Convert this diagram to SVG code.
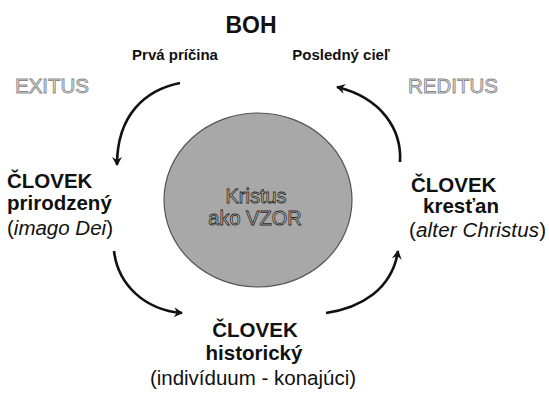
<svg xmlns="http://www.w3.org/2000/svg" width="549" height="394" viewBox="0 0 549 394">
<style>
text{font-family:"Liberation Sans",Arial,sans-serif;fill:#111}
.b{font-weight:bold}
.n{font-size:20.5px}
.s{font-size:15px;font-weight:bold}
.emb{font-size:20.5px;fill:#e6e6e6;stroke:#8a8a8a;stroke-width:0.9px}
.kr{font-size:20px;fill:#c4c4c4;stroke:#2a2a2a;stroke-width:0.8px}
.con{fill:none;stroke:#111;stroke-width:2.6;marker-end:url(#ah)}
</style>
<defs>
<marker id="ah" viewBox="0 0 12 12" refX="9" refY="6" markerWidth="12" markerHeight="12" markerUnits="userSpaceOnUse" orient="auto">
<path d="M1,1 L10,6 L1,11 L4,6 Z" fill="#111"/>
</marker>
</defs>
<rect width="549" height="394" fill="#fff"/>
<g id="center">
<ellipse cx="258" cy="200" rx="94" ry="87" fill="#a8a8a8" stroke="#555" stroke-width="1.2"/>
<text class="kr" x="256" y="203" text-anchor="middle">Kristus</text>
<text class="kr" x="255" y="225" text-anchor="middle">ako VZOR</text>
</g>
<g id="boh">
<text class="b" x="251" y="33" text-anchor="middle" font-size="23">BOH</text>
<text class="s" x="175" y="60" text-anchor="middle">Prvá príčina</text>
<text class="s" x="341" y="60" text-anchor="middle">Posledný cieľ</text>
</g>
<g id="exitus"><text class="emb" x="15" y="93">EXITUS</text></g>
<g id="reditus"><text class="emb" x="408" y="93">REDITUS</text></g>
<g id="prirodzeny">
<text class="b n" x="7" y="188">ČLOVEK</text>
<text class="b n" x="7" y="210">prirodzený</text>
<text class="n" x="7" y="235">(<tspan font-style="italic">imago Dei</tspan>)</text>
</g>
<g id="krestan">
<text class="b n" x="411" y="192">ČLOVEK</text>
<text class="b n" x="423" y="213">kresťan</text>
<text class="n" x="409" y="237" textLength="137">(<tspan font-style="italic">alter Christus</tspan>)</text>
</g>
<g id="historicky">
<text class="b n" x="255" y="337" text-anchor="middle">ČLOVEK</text>
<text class="b n" x="254" y="360" text-anchor="middle">historický</text>
<text class="n" x="253" y="385" text-anchor="middle">(indivíduum  - konajúci)</text>
</g>
<g id="connectors">
<path class="con" d="M180,83 C145,90 117,115 117,165"/>
<path class="con" d="M114,251 C118,285 145,310 182,313"/>
<path class="con" d="M326,313 C360,308 392,290 398,251"/>
<path class="con" d="M400,162 C402,130 382,98 337,87"/>
</g>
</svg>
